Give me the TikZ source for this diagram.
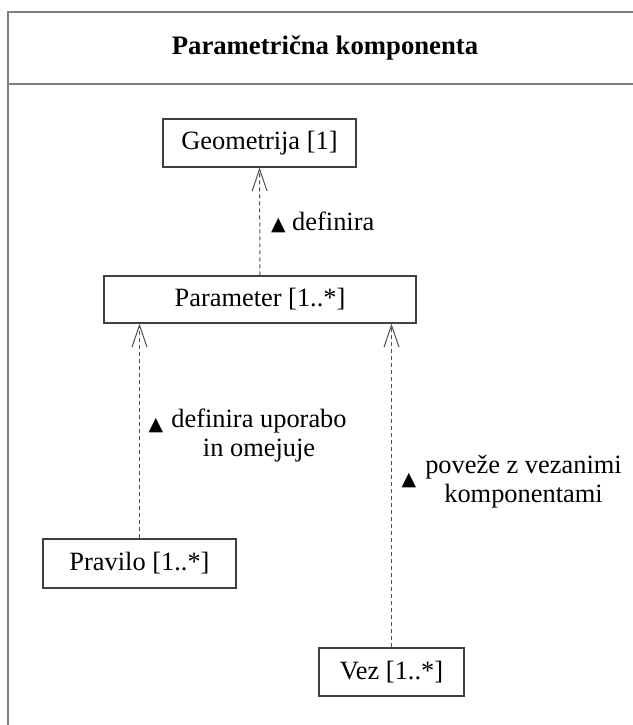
\documentclass[tikz,border=0pt]{standalone}
\usepackage{fontspec}
\setmainfont{Liberation Serif}
\newfontfamily\symfont{DejaVu Sans}
\usetikzlibrary{arrows.meta}
\definecolor{framegray}{HTML}{808080}
\definecolor{boxgray}{HTML}{404040}
\definecolor{dashgray}{HTML}{505050}
\begin{document}
\begin{tikzpicture}[x=1bp,y=-1bp,
  txt/.style={inner sep=0pt, font=\fontsize{26.5}{29}\selectfont},
  box/.style={draw=boxgray, line width=1.2bp, minimum width=#1, minimum height=48bp, inner sep=0pt, font=\fontsize{26.5}{29}\selectfont},
  tri/.style={inner sep=0pt, font=\symfont\fontsize{19}{19}\selectfont},
  conn/.style={draw=dashgray, line width=1bp, dash pattern=on 4bp off 3bp, -{Straight Barb[length=22bp,width=15bp,line width=1bp]}},
  framel/.style={draw=framegray, line width=2bp}]
\useasboundingbox (0,0) rectangle (633,725);
% frame
\coordinate (ftr) at (633,12);
\coordinate (ftl) at (8,12);
\coordinate (fbl) at (8,725);
\coordinate (fdl) at (8,84);
\coordinate (fdr) at (633,84);
\draw[framel] (ftr) -- (ftl) -- (fbl);
\draw[framel] (fdl) -- (fdr);
\node[txt, font=\fontsize{26.8}{29}\selectfont\bfseries] (title) at (325,48) {Parametrična komponenta};
% boxes
\node[box=193bp] (geo) at (259.5,143) {Geometrija [1]};
\node[box=312bp, minimum height=47bp] (par) at (260,299.5) {Parameter [1..*]};
\node[box=193bp, minimum height=49bp] (pra) at (139.5,563.5) {Pravilo [1..*]};
\node[box=145bp] (vez) at (391.5,672) {Vez [1..*]};
% connectors
\draw[conn] (par.north) -- (geo.south);
\draw[conn] (pra.north) -- (pra.north |- par.south);
\draw[conn] (vez.north) -- (vez.north |- par.south);
% labels
\node[tri, anchor=base west] (t1) at (271,230) {▲};
\node[txt, anchor=base west] (l1) at (292,230) {definira};
\node[tri] (t2) at (156,426) {▲};
\node[txt, align=center, anchor=base] (l2) at (259,456) {definira uporabo\\in omejuje};
\node[tri] (t3) at (409,481) {▲};
\node[txt, align=center, anchor=base] (l3) at (523.5,502) {poveže z vezanimi\\komponentami};
\end{tikzpicture}
\end{document}
